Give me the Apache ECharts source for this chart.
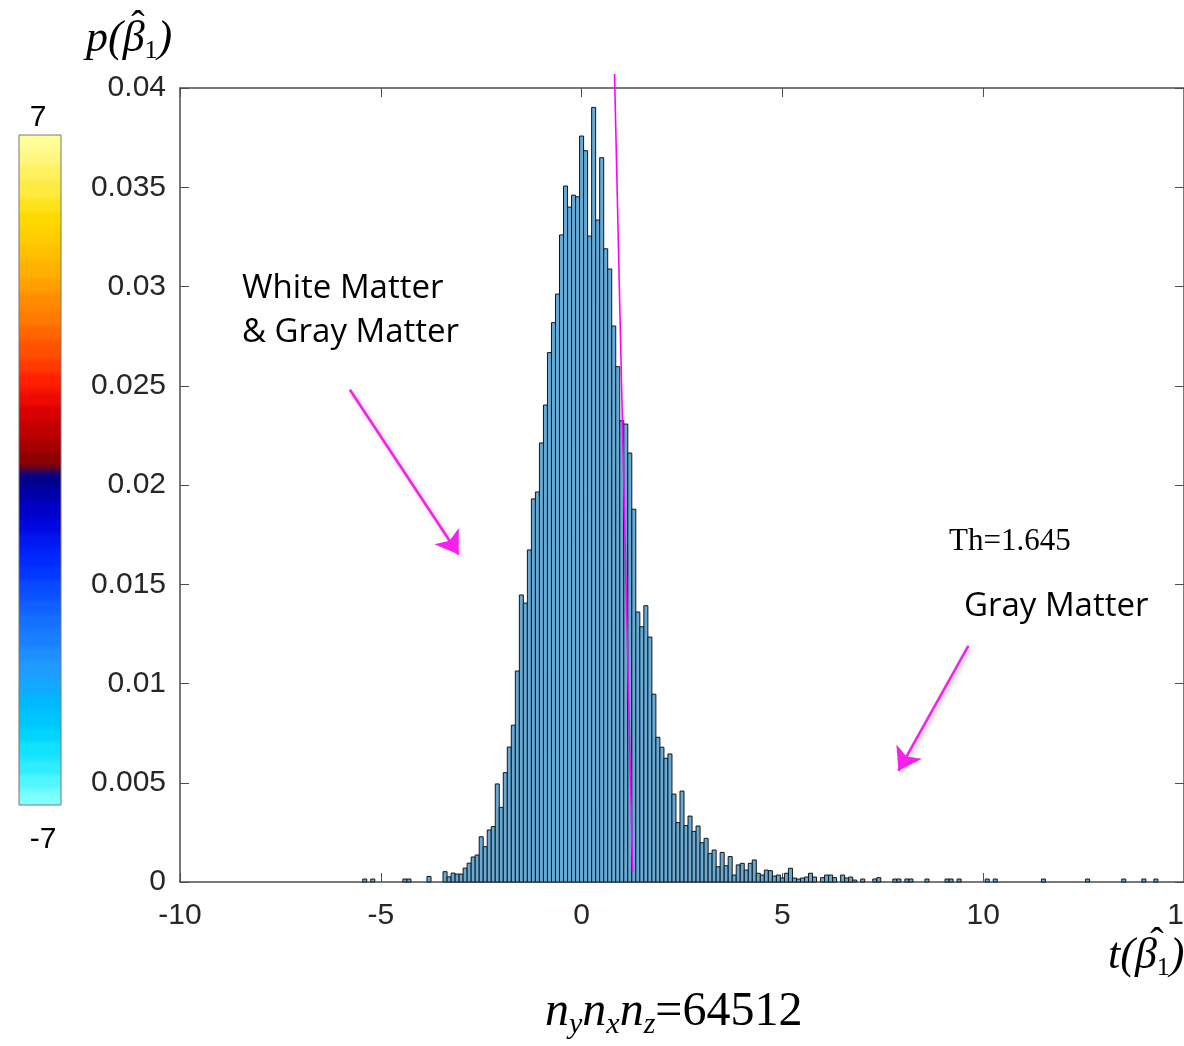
<!DOCTYPE html>
<html>
<head>
<meta charset="utf-8">
<script src="https://cdn.jsdelivr.net/npm/echarts@6/dist/echarts.min.js"></script>
<style>
  html, body { margin: 0; padding: 0; background: #fff; overflow: hidden; }
  #chart { width: 1184px; height: 1046px; }
</style>
</head>
<body>
<div id="chart"></div>
<script>
// ---- data ----
const BIN_WIDTH = 0.1;
const binCenters = [
  -5.4, -5.2, -4.4, -4.3, -3.8,
  -3.4, -3.3, -3.2, -3.1, -3.0, -2.9, -2.8, -2.7, -2.6, -2.5,
  -2.4, -2.3, -2.2, -2.1, -2.0, -1.9, -1.8, -1.7, -1.6, -1.5,
  -1.4, -1.3, -1.2, -1.1, -1.0, -0.9, -0.8, -0.7, -0.6, -0.5,
  -0.4, -0.3, -0.2, -0.1, 0.0, 0.1, 0.2, 0.3, 0.4, 0.5,
  0.6, 0.7, 0.8, 0.9, 1.0, 1.1, 1.2, 1.3, 1.4, 1.5,
  1.6, 1.7, 1.8, 1.9, 2.0, 2.1, 2.2, 2.3, 2.4, 2.5,
  2.6, 2.7, 2.8, 2.9, 3.0, 3.1, 3.2, 3.3, 3.4, 3.5,
  3.6, 3.7, 3.8, 3.9, 4.0, 4.1, 4.2, 4.3, 4.4, 4.5,
  4.6, 4.7, 4.8, 4.9, 5.0, 5.1, 5.2, 5.3, 5.4, 5.5,
  5.6, 5.7, 5.8, 6.0, 6.1, 6.2, 6.3, 6.5, 6.6, 6.7,
  6.8, 7.0, 7.3, 7.4, 7.8, 7.9, 8.1, 8.2, 8.6, 9.1,
  9.2, 9.4, 10.1, 10.3, 11.5, 12.6, 13.5, 14.0, 14.3
];
const density = [
  0.00015, 0.00015, 0.00015, 0.00015, 0.00028,
  0.00052, 0.00026, 0.00045, 0.00040, 0.00040, 0.00070, 0.00095, 0.00126, 0.00136, 0.00228,
  0.00178, 0.00262, 0.00279, 0.00494, 0.00376, 0.00551, 0.00680, 0.00790, 0.01063, 0.01446,
  0.01405, 0.01673, 0.01930, 0.01965, 0.02212, 0.02403, 0.02667, 0.02818, 0.02962, 0.03260,
  0.03506, 0.03400, 0.03460, 0.03452, 0.03758, 0.03684, 0.03254, 0.03902, 0.03335, 0.03649,
  0.03190, 0.03088, 0.02801, 0.02596, 0.02324, 0.02307, 0.02161, 0.01878, 0.01360, 0.01286,
  0.01392, 0.01234, 0.00946, 0.00729, 0.00679, 0.00623, 0.00645, 0.00443, 0.00299, 0.00458,
  0.00284, 0.00332, 0.00255, 0.00282, 0.00198, 0.00220, 0.00144, 0.00161, 0.00077, 0.00149,
  0.00082, 0.00128, 0.00035, 0.00086, 0.00094, 0.00060, 0.00094, 0.00111, 0.00044, 0.00035,
  0.00060, 0.00057, 0.00030, 0.00035, 0.00020, 0.00044, 0.00069, 0.00020, 0.00015, 0.00020,
  0.00025, 0.00044, 0.00025, 0.00022, 0.00035, 0.00035, 0.00022, 0.00035, 0.00020, 0.00025,
  0.00010, 0.00015, 0.00015, 0.00022, 0.00015, 0.00015, 0.00015, 0.00015, 0.00015, 0.00015,
  0.00015, 0.00015, 0.00015, 0.00015, 0.00015, 0.00015, 0.00015, 0.00015, 0.00015
];
const xTicks = [-10, -5, 0, 5, 10, 15];
const yTicks = [0, 0.005, 0.01, 0.015, 0.02, 0.025, 0.03, 0.035, 0.04];
const thresholdLine = [[0.82, 0.0407], [1.27, 0.0005]];
const arrowWM = [[-5.77, 0.0248], [-3.06, 0.0165]];
const arrowGM = [[9.63, 0.0119], [7.89, 0.0056]];
const colorbarRange = [-7, 7];
const colorbarLabels = ['7', '-7'];

// colour bands of the colorbar (bottom -> top)
const blueBands = ['#80ffff','#50f6ff','#30eeff','#10e2ff','#00d4ff','#00c6ff','#00b8ff','#10aaff','#1e9cff','#1f8eff',
                   '#1a80ff','#1570ff','#1060ff','#0a4cff','#0038ff','#0028ff','#0018f0','#0008e0','#0000c8','#0000a8','#00008b'];
const redBands  = ['#8b0000','#a50000','#c00000','#d80000','#ee0a00','#ff2000','#ff3a00','#ff5000','#ff6600','#ff7a00',
                   '#ff8c00','#ffa000','#ffb000','#ffc000','#ffcc00','#ffd800','#ffe31a','#ffea40','#fff060','#fff680','#ffff99'];
const bandColors = [];
blueBands.concat(redBands).forEach(c => { bandColors.push(c, c, c, c); });

const chart = echarts.init(document.getElementById('chart'));
const axisColor = '#4d4d4d';
const tickFont = { fontFamily: 'Liberation Sans', fontSize: 30, color: '#262626' };
const serifIt = { fontFamily: 'Liberation Serif', fontStyle: 'italic', fill: '#000' };

const option = {
  backgroundColor: '#ffffff',
  animation: false,
  grid: { left: 180, right: 0, top: 88, bottom: 164, containLabel: false, outerBoundsMode: 'none' },
  xAxis: [
    { type: 'value', min: xTicks[0], max: xTicks[xTicks.length - 1], interval: 5, position: 'bottom',
      axisLine: { onZero: false, lineStyle: { color: axisColor, width: 1.5 } },
      axisTick: { inside: true, length: 9, lineStyle: { color: axisColor } },
      axisLabel: Object.assign({ margin: 19, hideOverlap: false, showMaxLabel: true }, tickFont),
      splitLine: { show: false } },
    { type: 'value', min: xTicks[0], max: xTicks[xTicks.length - 1], interval: 5, position: 'top',
      axisLine: { onZero: false, lineStyle: { color: axisColor, width: 1.5 } },
      axisTick: { inside: true, length: 9, lineStyle: { color: axisColor } },
      axisLabel: { show: false }, splitLine: { show: false } }
  ],
  yAxis: [
    { type: 'value', min: yTicks[0], max: yTicks[yTicks.length - 1], interval: 0.005, position: 'left',
      axisLine: { show: true, onZero: false, lineStyle: { color: axisColor, width: 1.5 } },
      axisTick: { show: true, inside: true, length: 9, lineStyle: { color: axisColor } },
      axisLabel: Object.assign({ margin: 14 }, tickFont),
      splitLine: { show: false } },
    { type: 'value', min: yTicks[0], max: yTicks[yTicks.length - 1], interval: 0.005, position: 'right',
      axisLine: { show: true, onZero: false, lineStyle: { color: axisColor, width: 1.5 } },
      axisTick: { show: true, inside: true, length: 9, lineStyle: { color: axisColor } },
      axisLabel: { show: false }, splitLine: { show: false } }
  ],
  visualMap: {
    type: 'continuous', min: colorbarRange[0], max: colorbarRange[1],
    seriesIndex: 3, calculable: false, hoverLink: false,
    left: 19, top: 135, padding: 0, itemWidth: 42, itemHeight: 670,
    text: null,
    inRange: { color: bandColors }
  },
  series: [
    {
      type: 'custom', xAxisIndex: 0, yAxisIndex: 0,
      data: binCenters.map((t, i) => [t, density[i]]),
      encode: { x: 0, y: 1 },
      renderItem: function (params, api) {
        const x = api.value(0), y = api.value(1);
        const p0 = api.coord([x - BIN_WIDTH / 2, y]);
        const p1 = api.coord([x + BIN_WIDTH / 2, 0]);
        return { type: 'rect',
          shape: { x: p0[0], y: p0[1], width: p1[0] - p0[0], height: p1[1] - p0[1] },
          style: { fill: '#66aad7', stroke: '#151515', lineWidth: 1 } };
      },
      z: 2
    },
    {
      type: 'line', data: thresholdLine, clip: false, symbol: 'none',
      lineStyle: { color: '#ff00ff', width: 1.6 }, z: 5, silent: true
    },
    {
      type: 'scatter', data: [], silent: true, z: 6,
      markLine: {
        silent: true, symbol: ['none', 'arrow'], symbolSize: 22,
        label: { show: false },
        lineStyle: { color: '#f520ec', width: 2.5, type: 'solid', opacity: 1,
                     shadowColor: 'rgba(0,0,0,0.3)', shadowBlur: 4, shadowOffsetX: 2, shadowOffsetY: 2 },
        data: [
          [{ coord: arrowWM[0] }, { coord: arrowWM[1] }],
          [{ coord: arrowGM[0] }, { coord: arrowGM[1] }]
        ]
      }
    },
    { type: 'scatter', data: [], silent: true }
  ],
  graphic: [
    { type: 'rect', silent: true, z: 10,
      shape: { x: 19, y: 135, width: 42, height: 670 },
      style: { fill: null, stroke: '#777', lineWidth: 1 } },
    { type: 'text', x: 38, y: 118, silent: true,
      style: { text: colorbarLabels[0], align: 'center', verticalAlign: 'middle',
               fontFamily: 'Liberation Sans', fontSize: 30, fill: '#000' } },
    { type: 'text', x: 43, y: 840, silent: true,
      style: { text: colorbarLabels[1], align: 'center', verticalAlign: 'middle',
               fontFamily: 'Liberation Sans', fontSize: 30, fill: '#000' } },
    { type: 'text', left: 242, top: 267, silent: true,
      style: { text: 'White Matter\n& Gray Matter', fontFamily: 'Open Sans', fontSize: 33, lineHeight: 44, fill: '#000' } },
    { type: 'text', left: 964, top: 590, silent: true,
      style: { text: 'Gray Matter', fontFamily: 'Open Sans', fontSize: 33, fill: '#000' } },
    { type: 'text', left: 949, top: 526, silent: true,
      style: { text: 'Th=1.645', fontFamily: 'Liberation Serif', fontSize: 31, fill: '#000' } },
    // y axis name p(beta-hat_1)
    { type: 'text', left: 86, top: 17, silent: true,
      style: { text: '{i|p(β}{s|1}{i|)}',
        rich: {
          i: Object.assign({ fontSize: 44, lineHeight: 50 }, serifIt),
          s: { fontFamily: 'Liberation Serif', fontSize: 26, fill: '#000', verticalAlign: 'bottom', lineHeight: 50 }
        } } },
    { type: 'text', x: 138, y: 27, silent: true,
      style: { text: 'ˆ', align: 'center', verticalAlign: 'middle', fontFamily: 'Liberation Serif', fontSize: 40, fill: '#000' } },
    // x axis name t(beta-hat_1)
    { type: 'text', left: 1108, top: 934, silent: true,
      style: { text: '{i|t(β}{s|1}{i|)}',
        rich: {
          i: Object.assign({ fontSize: 44, lineHeight: 50 }, serifIt),
          s: { fontFamily: 'Liberation Serif', fontSize: 26, fill: '#000', verticalAlign: 'bottom', lineHeight: 50 }
        } } },
    { type: 'text', x: 1157, y: 944, silent: true,
      style: { text: 'ˆ', align: 'center', verticalAlign: 'middle', fontFamily: 'Liberation Serif', fontSize: 40, fill: '#000' } },
    // bottom caption
    { type: 'text', left: 545, top: 988, silent: true,
      style: { text: '{i|n}{s|y}{i|n}{s|x}{i|n}{s|z}{r|=64512}',
        rich: {
          i: Object.assign({ fontSize: 48, lineHeight: 56 }, serifIt),
          s: Object.assign({ fontSize: 30, verticalAlign: 'bottom', lineHeight: 56 }, serifIt),
          r: { fontFamily: 'Liberation Serif', fontSize: 48, fill: '#000', lineHeight: 56 }
        } } }
  ]
};
chart.setOption(option);
</script>
</body>
</html>
